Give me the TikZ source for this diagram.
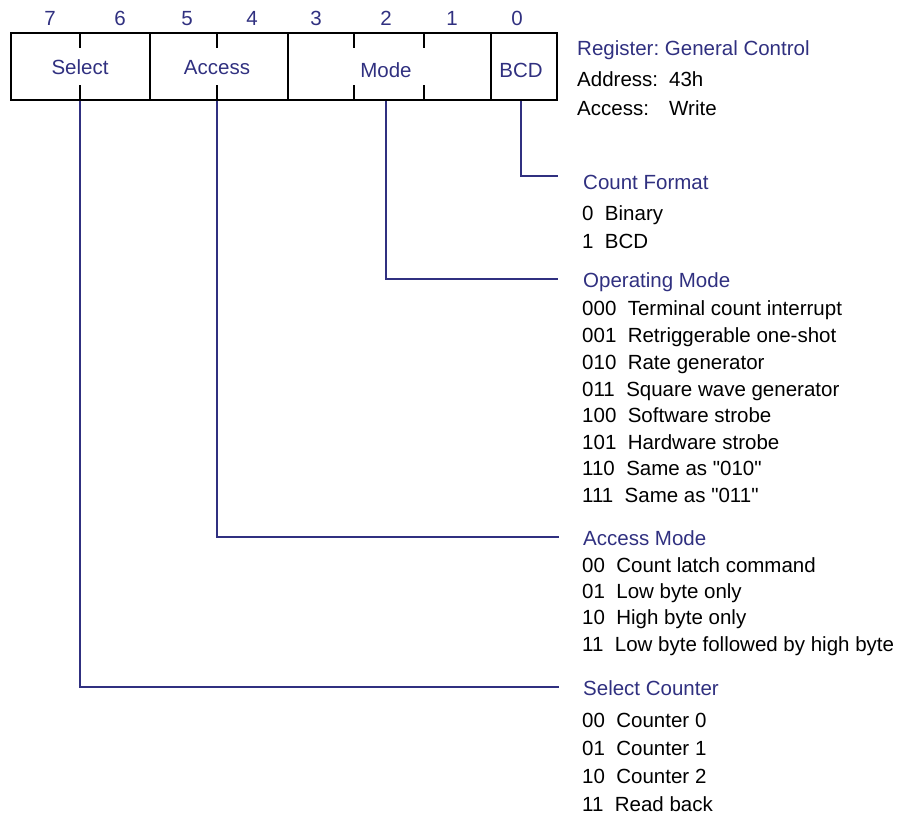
\documentclass[tikz,border=0pt]{standalone}
\usepackage{fontspec}
\setmainfont{Liberation Sans}[Ligatures=TeXOff]
\frenchspacing
\definecolor{navy}{RGB}{48,48,128}
\newcommand{\dq}{\char34\relax}
\begin{document}
\begin{tikzpicture}[x=1pt,y=-1pt,
  every node/.style={inner sep=0pt, font=\fontsize{20.5}{24}\selectfont\frenchspacing},
  field/.style={draw=black, line width=2.4pt, rectangle, minimum height=67pt},
  bitnum/.style={text=navy, anchor=base},
  fname/.style={text=navy, anchor=base},
  head/.style={text=navy, anchor=base west},
  item/.style={text=black, anchor=base west},
  wire/.style={draw=navy, line width=2.4pt},
  tickmark/.style={draw=black, line width=2.4pt}]

\useasboundingbox (0,0) rectangle (904,817);

% register fields
\node[field, minimum width=139pt] (fsel) at (80.5,66.5) {};
\node[field, minimum width=138pt] (facc) at (219,66.5) {};
\node[field, minimum width=203pt] (fmode) at (389.5,66.5) {};
\node[field, minimum width=66pt] (fbcd) at (524,66.5) {};

% field names
\node[fname] (lsel) at (80,74) {Select};
\node[fname] (lacc) at (217,74) {Access};
\node[fname] (lmode) at (386,77) {Mode};
\node[fname] (lbcd) at (521,77) {BCD};

% bit numbers
\foreach \b/\x in {7/50,6/120,5/187,4/252,3/316,2/386,1/452,0/517}
  \node[bitnum] (bit\b) at (\x,25) {\b};

% bit boundary ticks inside the fields
\foreach \x in {80,217,354,424} {
  \draw[tickmark] (\x,33) -- (\x,48);
  \draw[tickmark] (\x,85) -- (\x,100);
}

% register description
\node[head] (reg) at (577,55) {Register: General Control};
\node[item] (addr) at (577,86) {\makebox[92pt][l]{Address:}43h};
\node[item] (acc) at (577,115) {\makebox[92pt][l]{Access:}Write};

% connector end points
\coordinate (cbcd) at (558,176);
\coordinate (cmode) at (558,279);
\coordinate (cacc) at (559,537);
\coordinate (csel) at (559,687);

\draw[wire] (lbcd |- fbcd.south) |- (cbcd);
\draw[wire] (lmode |- fmode.south) |- (cmode);
\draw[wire] (lacc |- facc.south) |- (cacc);
\draw[wire] (lsel |- fsel.south) |- (csel);

% Count Format
\node[head] (tfmt) at (583,189) {Count Format};
\node[item] (fmt0) at (582,220) {0~~Binary};
\node[item] (fmt1) at (582,248) {1~~BCD};

% Operating Mode
\node[head] (tmode) at (583,287) {Operating Mode};
\foreach \i/\y/\t in {0/315/000~~Terminal count interrupt,
                      1/342/001~~Retriggerable one-shot,
                      2/369/010~~Rate generator,
                      3/396/011~~Square wave generator,
                      4/422/100~~Software strobe,
                      5/449/101~~Hardware strobe,
                      6/475/110~~Same as \dq010\dq,
                      7/502/111~~Same as \dq011\dq}
  \node[item] (om\i) at (582,\y) {\t};

% Access Mode
\node[head] (tacc) at (583,545) {Access Mode};
\foreach \i/\y/\t in {0/572/00~~Count latch command,
                      1/598/01~~Low byte only,
                      2/624/10~~High byte only,
                      3/651/11~~Low byte followed by high byte}
  \node[item] (am\i) at (582,\y) {\t};

% Select Counter
\node[head] (tsel) at (583,695) {Select Counter};
\foreach \i/\y/\t in {0/727/00~~Counter 0,
                      1/755/01~~Counter 1,
                      2/783/10~~Counter 2,
                      3/811/11~~Read back}
  \node[item] (sc\i) at (582,\y) {\t};
\end{tikzpicture}
\end{document}
